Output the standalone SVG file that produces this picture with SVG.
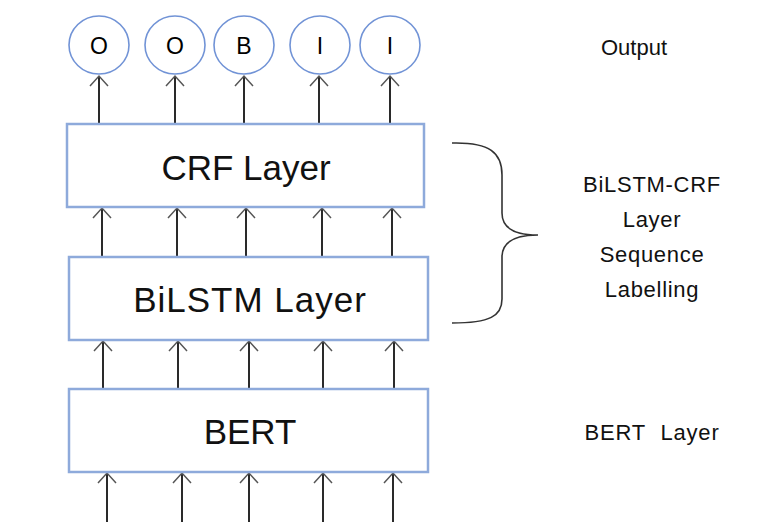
<svg xmlns="http://www.w3.org/2000/svg" width="763" height="530" viewBox="0 0 763 530">
<style>
.box{fill:#fff;stroke:#8eaadb;stroke-width:2.5}
.circ{fill:#fff;stroke:#7193d6;stroke-width:1.6}
.arr{stroke:#2a2a2a;stroke-width:2;fill:none;marker-end:url(#ah)}
.big{font-family:"Liberation Sans",Arial,sans-serif;font-size:35px;fill:#111;text-anchor:middle}
.lab{font-family:"Liberation Sans",Arial,sans-serif;font-size:22px;fill:#111;text-anchor:middle}
.tag{font-family:"Liberation Sans",Arial,sans-serif;font-size:23px;fill:#000;text-anchor:middle}
</style>
<defs>
<marker id="ah" markerUnits="userSpaceOnUse" markerWidth="24" markerHeight="24" viewBox="-12 -12 24 24" refX="0" refY="0" orient="auto">
<path d="M-10,-9 L0,0 L-10,9" fill="none" stroke="#555" stroke-width="1.5"/>
</marker>
</defs>
<g id="connectors">
<line class="arr" x1="99" y1="123" x2="99" y2="76"/>
<line class="arr" x1="175" y1="123" x2="175" y2="76"/>
<line class="arr" x1="244" y1="123" x2="244" y2="76"/>
<line class="arr" x1="319" y1="123" x2="319" y2="76"/>
<line class="arr" x1="390" y1="123" x2="390" y2="76"/>
<line class="arr" x1="102" y1="257" x2="102" y2="208"/>
<line class="arr" x1="177" y1="257" x2="177" y2="208"/>
<line class="arr" x1="246" y1="257" x2="246" y2="208"/>
<line class="arr" x1="322" y1="257" x2="322" y2="208"/>
<line class="arr" x1="392" y1="257" x2="392" y2="208"/>
<line class="arr" x1="103" y1="389" x2="103" y2="341"/>
<line class="arr" x1="178" y1="389" x2="178" y2="341"/>
<line class="arr" x1="249" y1="389" x2="249" y2="341"/>
<line class="arr" x1="323" y1="389" x2="323" y2="341"/>
<line class="arr" x1="394" y1="389" x2="394" y2="341"/>
<line class="arr" x1="107" y1="522" x2="107" y2="473"/>
<line class="arr" x1="182" y1="522" x2="182" y2="473"/>
<line class="arr" x1="249" y1="522" x2="249" y2="473"/>
<line class="arr" x1="323" y1="522" x2="323" y2="473"/>
<line class="arr" x1="393" y1="522" x2="393" y2="473"/>
</g>
<g id="out1"><ellipse class="circ" cx="99" cy="45" rx="30" ry="29"/><text class="tag" x="99" y="54">O</text></g>
<g id="out2"><ellipse class="circ" cx="175" cy="45" rx="30" ry="29"/><text class="tag" x="175" y="54">O</text></g>
<g id="out3"><ellipse class="circ" cx="244" cy="45" rx="30" ry="29"/><text class="tag" x="244" y="54">B</text></g>
<g id="out4"><ellipse class="circ" cx="320" cy="45" rx="30" ry="29"/><text class="tag" x="320" y="54">I</text></g>
<g id="out5"><ellipse class="circ" cx="390" cy="45" rx="30" ry="29"/><text class="tag" x="390" y="54">I</text></g>
<g id="crf"><rect class="box" x="67" y="124" width="357" height="83"/><text class="big" x="246" y="180">CRF Layer</text></g>
<g id="bilstm"><rect class="box" x="69" y="257" width="359" height="83"/><text class="big" x="250" y="312" letter-spacing="1">BiLSTM Layer</text></g>
<g id="bert"><rect class="box" x="69" y="389" width="359" height="83"/><text class="big" x="250" y="444">BERT</text></g>
<g id="brace"><path d="M452,143 C490,142 502,153 502,175 L502,213 C502,228 514,235 538,235 C514,235 502,242 502,257 L502,299 C502,316 490,323 452,323" fill="none" stroke="#333" stroke-width="1.6"/></g>
<g id="labels">
<text class="lab" x="634" y="55" font-size="23">Output</text>
<text class="lab" x="652" y="192" font-size="24" letter-spacing="0.7">BiLSTM-CRF</text>
<text class="lab" x="652" y="227" font-size="24" letter-spacing="0.7">Layer</text>
<text class="lab" x="652" y="262" font-size="24" letter-spacing="0.7">Sequence</text>
<text class="lab" x="652" y="297" font-size="24" letter-spacing="0.7">Labelling</text>
<text class="lab" x="652" y="440" font-size="23" letter-spacing="0.8" word-spacing="8">BERT Layer</text>
</g>
</svg>
